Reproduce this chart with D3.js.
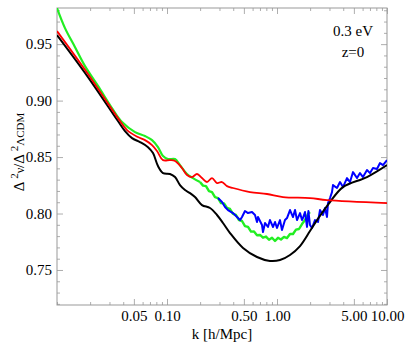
<!DOCTYPE html>
<html><head><meta charset="utf-8">
<script src="https://cdn.jsdelivr.net/npm/d3@7"></script>
<style>html,body{margin:0;padding:0;background:#fff;} svg{display:block;}</style>
</head><body>
<svg id="c" width="405" height="346"></svg>
<script>
// ---- data ----
const xMajorTicks = [0.05, 0.1, 0.5, 1, 5, 10];
const xTickLabels = ["0.05", "0.10", "0.50", "1.00", "5.00", "10.00"];
const xMinorTicks = [0.01,0.02,0.03,0.04,0.06,0.07,0.08,0.09,0.2,0.3,0.4,0.6,0.7,0.8,0.9,2,3,4,6,7,8,9];
const yMajorTicks = [0.75, 0.80, 0.85, 0.90, 0.95];
const yTickLabels = ["0.75", "0.80", "0.85", "0.90", "0.95"];
const yMinorTicks = [0.72,0.73,0.74,0.76,0.77,0.78,0.79,0.81,0.82,0.83,0.84,0.86,0.87,0.88,0.89,0.91,0.92,0.93,0.94,0.96,0.97,0.98];

const blackK = [0.01,0.01913,0.0358,0.0415,0.0481,0.0568,0.0672,0.0746,0.0828,0.0920,0.1065,0.1183,0.1313,0.1458,0.1619,0.1797,0.2080,0.2460,0.2848,0.3228,0.3741,0.4910,0.6579,0.8629,1.065,1.313,1.619,1.995,2.310,3.033,3.981,6.58,10];
const blackV = [0.9580,0.9208,0.8819,0.8730,0.8668,0.8633,0.8588,0.8535,0.8420,0.8358,0.8350,0.8323,0.8252,0.8208,0.8181,0.8146,0.8075,0.8049,0.7987,0.7916,0.7827,0.7695,0.7615,0.7580,0.7588,0.7633,0.7712,0.7845,0.7942,0.8102,0.8234,0.8323,0.8429];

const redK = [0.01,0.01913,0.0358,0.0433,0.0545,0.0631,0.0731,0.0811,0.0920,0.1065,0.1183,0.1368,0.1520,0.1688,0.1874,0.2080,0.2309,0.2565,0.2848,0.3162,0.3511,0.3981,0.5683,0.8111,1.134,1.995,2.848,10];
const redV = [0.9615,0.9235,0.8845,0.8739,0.8677,0.8650,0.8606,0.8553,0.8473,0.8473,0.8465,0.8403,0.8341,0.8323,0.8350,0.8314,0.8279,0.8314,0.8270,0.8279,0.8243,0.8226,0.8190,0.8173,0.8146,0.8137,0.8119,0.8093];

// green: smooth part at low k, noisy part at high k
const greenK = [0.01,0.01182,0.01459,0.01798,0.0246,0.0316,0.0390,0.0512,0.0631,0.0731,0.0828,0.0920,0.1021,0.1183,0.1313,0.1520,0.1722,0.1995];
const greenV = [0.9819,0.9642,0.9473,0.9305,0.9102,0.8934,0.8810,0.8721,0.8686,0.8650,0.8588,0.8509,0.8482,0.8482,0.8429,0.8350,0.8314,0.8279];
const greenNoisyK = [0.1995,0.2125,0.2262,0.2408,0.2565,0.2732,0.2909,0.3097,0.3298,0.3511,0.3741,0.3981,0.4239,0.4514,0.4808,0.5117,0.5451,0.5803,0.6179,0.6579,0.7007,0.7459,0.7943,0.8457,0.9010,0.9594,1.021,1.087,1.158,1.233,1.313,1.398,1.488,1.585,1.688,1.797,1.914,1.995];
const greenNoisyV = [0.8279,0.8247,0.8243,0.8199,0.8190,0.8146,0.8137,0.8093,0.8090,0.8049,0.8040,0.7996,0.7987,0.7942,0.7934,0.7889,0.7881,0.7840,0.7841,0.7808,0.7810,0.7786,0.7796,0.7768,0.7786,0.7757,0.7785,0.7770,0.7793,0.7783,0.7819,0.7819,0.7857,0.7863,0.7907,0.7942,0.7996,0.8013];

const blueK = [0.2909,0.3162,0.3368,0.3584,0.3981,0.4329,0.4611,0.4808,0.5117,0.5451,0.5926,0.6310,0.6579,0.6717,0.7305,0.7459,0.7784,0.8279,0.8629,0.9204,0.9594,1.000,1.065,1.110,1.182,1.233,1.313,1.398,1.458,1.520,1.619,1.688,1.722,1.797,1.874,1.93,1.995,2.080,2.215,2.359,2.460,2.619,2.732,2.848,2.909,3.033,3.162,3.228,3.511,3.739,3.981,4.329,4.610,4.910,5.337,5.682,6.05,6.58,7.008,7.46,8.11,8.637,9.196,10];
const blueV = [0.8137,0.8102,0.8058,0.8031,0.8004,0.7969,0.7942,0.7969,0.8022,0.8004,0.8013,0.7987,0.7925,0.7969,0.7898,0.7836,0.7916,0.7881,0.7942,0.7881,0.7925,0.7872,0.7942,0.7854,0.7942,0.7960,0.8031,0.7969,0.8031,0.7942,0.8004,0.7942,0.7960,0.8013,0.7881,0.8022,0.7898,0.7872,0.7942,0.7925,0.8031,0.7987,0.8049,0.7969,0.8093,0.8137,0.8190,0.8252,0.8226,0.8279,0.8234,0.8314,0.8279,0.8367,0.8314,0.8358,0.8323,0.8385,0.8358,0.8403,0.8394,0.8447,0.8429,0.8473];

// ---- layout ----
const L = 57, R = 387, T = 8, B = 305;
const svg = d3.select("#c");
const font = "'Liberation Serif','Times New Roman',serif";
const FS = 15;
const x = d3.scaleLog().domain([0.01, 10]).range([L, R]);
const y = d3.scaleLinear().domain([0.719, 0.982]).range([B, T]);

svg.append("defs").append("clipPath").attr("id","clip")
  .append("rect").attr("x",L).attr("y",T).attr("width",R-L).attr("height",B-T);

function styleAxis(g){
  g.select(".domain").remove();
  g.selectAll(".tick line").attr("stroke","#999").attr("stroke-width",0.8);
  g.selectAll(".tick text").attr("font-family",font).attr("font-size",FS).attr("fill","#000");
}
// bottom
svg.append("g").attr("transform",`translate(0,${B})`)
  .call(d3.axisBottom(x).tickValues(xMajorTicks).tickFormat((d,i)=>xTickLabels[i]).tickSize(-6).tickPadding(5)).call(styleAxis);
svg.append("g").attr("transform",`translate(0,${B})`)
  .call(d3.axisBottom(x).tickValues(xMinorTicks).tickFormat("").tickSize(-3)).call(styleAxis);
// top
svg.append("g").attr("transform",`translate(0,${T})`)
  .call(d3.axisTop(x).tickValues(xMajorTicks).tickFormat("").tickSize(-6)).call(styleAxis);
svg.append("g").attr("transform",`translate(0,${T})`)
  .call(d3.axisTop(x).tickValues(xMinorTicks).tickFormat("").tickSize(-3)).call(styleAxis);
// left
svg.append("g").attr("transform",`translate(${L},0)`)
  .call(d3.axisLeft(y).tickValues(yMajorTicks).tickFormat((d,i)=>yTickLabels[i]).tickSize(-6).tickPadding(5)).call(styleAxis);
svg.append("g").attr("transform",`translate(${L},0)`)
  .call(d3.axisLeft(y).tickValues(yMinorTicks).tickFormat("").tickSize(-3)).call(styleAxis);
// right
svg.append("g").attr("transform",`translate(${R},0)`)
  .call(d3.axisRight(y).tickValues(yMajorTicks).tickFormat("").tickSize(-6)).call(styleAxis);
svg.append("g").attr("transform",`translate(${R},0)`)
  .call(d3.axisRight(y).tickValues(yMinorTicks).tickFormat("").tickSize(-3)).call(styleAxis);

// frame
svg.append("rect").attr("x",L).attr("y",T).attr("width",R-L).attr("height",B-T)
  .attr("fill","none").attr("stroke","#999").attr("stroke-width",1);

// curves
const smooth = d3.line().x(d=>x(d[0])).y(d=>y(d[1])).curve(d3.curveCatmullRom.alpha(0.5));
const jag = d3.line().x(d=>x(d[0])).y(d=>y(d[1]));
const plot = svg.append("g").attr("clip-path","url(#clip)");
const zip = (a,b)=>a.map((v,i)=>[v,b[i]]);
plot.append("path").attr("d",smooth(zip(greenK,greenV))).attr("fill","none").attr("stroke","#22ee22").attr("stroke-width",2.2);
plot.append("path").attr("d",jag(zip(greenNoisyK,greenNoisyV))).attr("fill","none").attr("stroke","#22ee22").attr("stroke-width",2.4).attr("stroke-linejoin","round");
plot.append("path").attr("d",jag(zip(blueK,blueV))).attr("fill","none").attr("stroke","#0000ff").attr("stroke-width",2).attr("stroke-linejoin","round");
plot.append("path").attr("d",smooth(zip(blackK,blackV))).attr("fill","none").attr("stroke","#000").attr("stroke-width",2);
plot.append("path").attr("d",smooth(zip(redK,redV))).attr("fill","none").attr("stroke","#ff0000").attr("stroke-width",1.8);

// annotations
svg.append("text").attr("x",353).attr("y",36).attr("text-anchor","middle")
  .attr("font-family",font).attr("font-size",FS).text("0.3 eV");
svg.append("text").attr("x",353).attr("y",57).attr("text-anchor","middle")
  .attr("font-family",font).attr("font-size",FS).text("z=0");

// axis titles
svg.append("text").attr("x",(L+R)/2).attr("y",339).attr("text-anchor","middle")
  .attr("font-family",font).attr("font-size",FS).text("k [h/Mpc]");
const yl = svg.append("text").attr("transform","translate(24,152) rotate(-90)")
  .attr("text-anchor","middle").attr("font-family",font).attr("font-size",FS);
yl.append("tspan").text("Δ");
yl.append("tspan").attr("font-size",11).attr("dy",-6).text(" 2");
yl.append("tspan").attr("font-size",12).attr("dy",6).text("ν");
yl.append("tspan").text("/Δ");
yl.append("tspan").attr("font-size",11).attr("dy",-6).text(" 2");
yl.append("tspan").attr("font-size",11).attr("dy",6).text("ΛCDM");
</script>
</body></html>
